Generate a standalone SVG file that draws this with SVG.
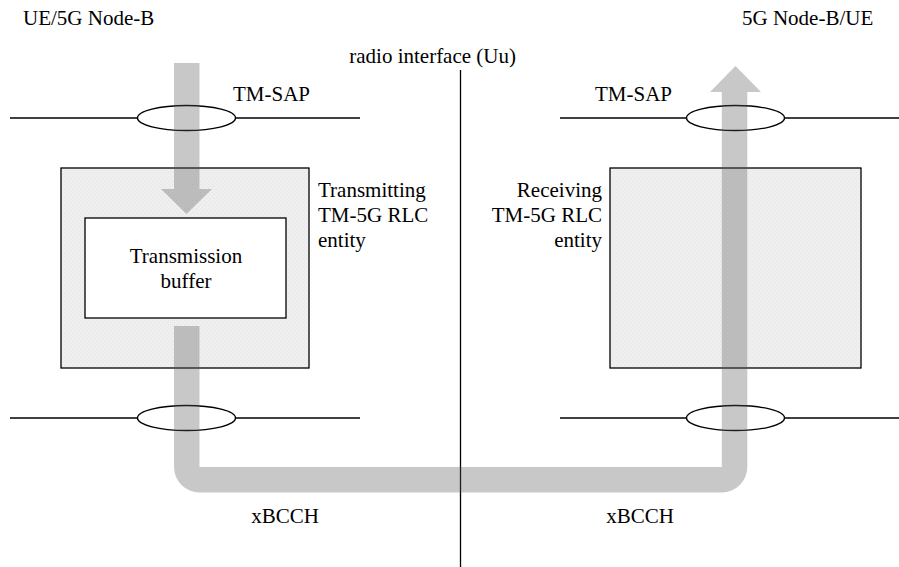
<svg xmlns="http://www.w3.org/2000/svg" width="899" height="567" viewBox="0 0 899 567">
<style>
.t{font-family:"Liberation Serif","Times New Roman",serif;font-size:21px;fill:#000}
.ln{stroke:#000;stroke-width:1.3;fill:none}
.sap{fill:#fff;stroke:#000;stroke-width:1.3}
.ent{fill:url(#dots);stroke:#000;stroke-width:1.3}
.band{fill:#5a5a5a;fill-opacity:0.333;stroke:none}
</style>
<defs>
<pattern id="dots" width="4" height="4" patternUnits="userSpaceOnUse">
<rect width="4" height="4" fill="#efefef"/>
<rect x="0" y="0" width="1" height="1" fill="#e2e2e2"/>
<rect x="2" y="2" width="1" height="1" fill="#e2e2e2"/>
</pattern>
</defs>
<rect width="899" height="567" fill="#fff"/>

<g id="uu-interface">
<line class="ln" x1="460.5" y1="70" x2="460.5" y2="567"/>
<text class="t" x="516" y="63" text-anchor="end">radio interface (Uu)</text>
</g>

<g id="sap-left-top">
<line class="ln" x1="10" y1="118" x2="360" y2="118"/>
<ellipse class="sap" cx="186.5" cy="118" rx="49" ry="12.5"/>
<text class="t" x="233" y="101">TM-SAP</text>
</g>
<g id="sap-right-top">
<line class="ln" x1="560" y1="118" x2="899" y2="118"/>
<ellipse class="sap" cx="735.5" cy="118" rx="49" ry="12.5"/>
<text class="t" x="595" y="101">TM-SAP</text>
</g>
<g id="sap-left-bottom">
<line class="ln" x1="10" y1="418" x2="360" y2="418"/>
<ellipse class="sap" cx="186.5" cy="418" rx="49" ry="12.5"/>
<text class="t" x="285" y="523" text-anchor="middle">xBCCH</text>
</g>
<g id="sap-right-bottom">
<line class="ln" x1="560" y1="418" x2="899" y2="418"/>
<ellipse class="sap" cx="735.5" cy="418" rx="49" ry="12.5"/>
<text class="t" x="640" y="523" text-anchor="middle">xBCCH</text>
</g>

<g id="tx-entity">
<rect class="ent" x="61" y="168" width="248" height="200"/>
<text class="t" x="318" y="197">Transmitting</text>
<text class="t" x="318" y="222">TM-5G RLC</text>
<text class="t" x="318" y="247">entity</text>
</g>
<g id="tx-buffer">
<rect x="85" y="218" width="201" height="100" fill="#fff" stroke="#000" stroke-width="1.3"/>
<text class="t" x="186" y="263" text-anchor="middle">Transmission</text>
<text class="t" x="186" y="288" text-anchor="middle">buffer</text>
</g>
<g id="rx-entity">
<rect class="ent" x="610" y="168" width="251" height="200"/>
<text class="t" x="602" y="197" text-anchor="end">Receiving</text>
<text class="t" x="602" y="222" text-anchor="end">TM-5G RLC</text>
<text class="t" x="602" y="247" text-anchor="end">entity</text>
</g>

<g id="title-left"><text class="t" x="23" y="25">UE/5G Node-B</text></g>
<g id="title-right"><text class="t" x="742" y="25">5G Node-B/UE</text></g>

<g id="connectors">
<path class="band" d="M174,63 H199.5 V189 H212 L186.5,214 L161,189 H174 Z"/>
<path class="band" d="M174,326 V467 A25.5,25.5 0 0 0 199.5,492.5 H721.8 A25.5,25.5 0 0 0 747.3,467 V92 H761 L735.5,66 L710,92 H721.8 V467 H199.5 V326 Z"/>
</g>
</svg>
